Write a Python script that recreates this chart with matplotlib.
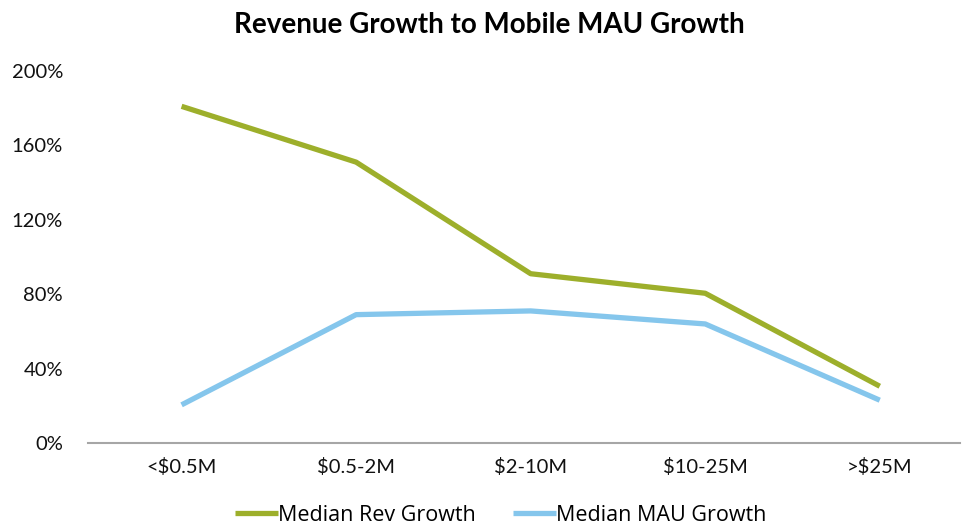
import matplotlib
matplotlib.use("Agg")
import matplotlib.pyplot as plt
from matplotlib.ticker import FuncFormatter

categories = ["<$0.5M", "$0.5-2M", "$2-10M", "$10-25M", ">$25M"]
rev_growth = [181, 151, 91, 80.5, 30.5]
mau_growth = [20.5, 69, 71, 64, 23]
yticks = [0, 40, 80, 120, 160, 200]

fig = plt.figure(figsize=(9.63, 5.29), dpi=100)
ax = fig.add_axes([0.0914, 0.1626, 0.905, 0.7032])

x = range(len(categories))
ax.plot(x, rev_growth, color="#9DAF2B", lw=3.8, label="Median Rev Growth", solid_capstyle="butt")
ax.plot(x, mau_growth, color="#85C6EC", lw=3.8, label="Median MAU Growth", solid_capstyle="butt")

ax.set_xlim(-0.536, 4.457)
ax.set_ylim(0, 200)
ax.set_yticks(yticks)
ax.yaxis.set_major_formatter(FuncFormatter(lambda v, p: f"{v:.0f}%"))
ax.set_xticks(list(x))
ax.set_xticklabels(categories)

for s in ["top", "right", "left"]:
    ax.spines[s].set_visible(False)
ax.spines["bottom"].set_color("#A6A6A6")
ax.spines["bottom"].set_linewidth(1.5)
ax.tick_params(axis="both", length=0, labelsize=14.5, colors="#111111")
ax.tick_params(axis="y", pad=18)
ax.tick_params(axis="x", pad=11)
for lab in ax.get_xticklabels() + ax.get_yticklabels():
    lab.set_fontfamily("Lato")

fig.text(0.508, 0.952, "Revenue Growth to Mobile MAU Growth", ha="center", va="center",
         fontsize=20, fontweight="bold", family="Lato")

leg = fig.legend(loc="center", bbox_to_anchor=(0.52, 0.026), ncol=2, frameon=False,
                 prop={"family": "Open Sans", "size": 15.5}, handlelength=2.0,
                 handletextpad=0.0, columnspacing=1.7, borderpad=0.1)

fig.savefig("out.png", dpi=100)
